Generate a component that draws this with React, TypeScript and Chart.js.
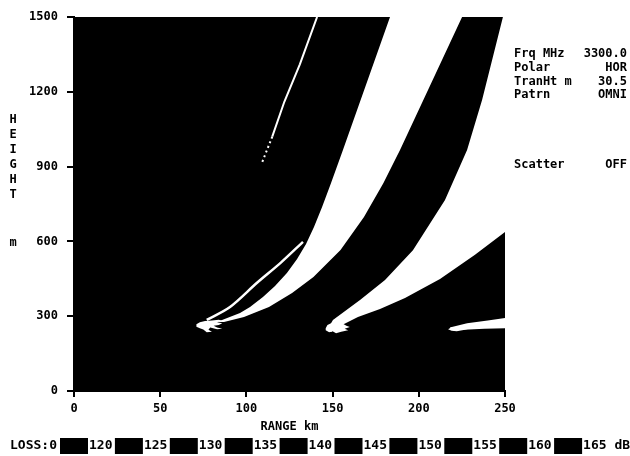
import { useEffect, useRef } from 'react';
import { Chart, registerables } from 'chart.js';

Chart.register(...registerables);

// ---- axis ticks ----
const rangeTicks = [0, 50, 100, 150, 200, 250];
const heightTicks = [0, 300, 600, 900, 1200, 1500];

// ---- coverage area (black = loss inside the legend range) ----
const coverageRange = [0, 250, 250, 0];
const coverageHeight = [0, 0, 1500, 1500];

// ---- white null bands (upper edge bottom->top, then lower edge top->bottom) ----
const band1Range = [82.9, 96.3, 102.1, 109.6, 116.6, 123.5, 129.4, 134.6, 139.2, 143.9, 149.1, 156.0, 183.3,
  225.1, 189.1, 179.5, 168.2, 154.6, 138.9, 126.5, 113.1, 98.6, 87.0];
const band1Height = [277, 313, 337, 377, 421, 473, 529, 590, 658, 738, 834, 967, 1500,
  1500, 967, 834, 698, 566, 457, 393, 337, 297, 277];

const band2Range = [146.8, 150.2, 165.9, 180.4, 196.6, 215.2, 228.0, 236.7, 248.8, 250,
  250, 232.6, 212.3, 192.0, 177.5, 164.7, 155.5, 149.1];
const band2Height = [245, 285, 365, 445, 565, 766, 967, 1167, 1500, 1500,
  638, 546, 449, 373, 329, 297, 265, 237];

const band3Range = [218, 228, 240, 250, 250, 238, 226, 220];
const band3Height = [255, 272, 283, 293, 252, 250, 246, 243];

// ---- ragged splashes where the bands start ----
const splash1Range = [71, 73, 76, 80, 84, 86, 83, 86, 84, 81, 83, 86, 83, 79, 78, 80, 77, 75, 73, 71];
const splash1Height = [268, 276, 281, 283, 286, 282, 276, 272, 265, 262, 255, 250, 248, 255, 246, 238, 236, 247, 252, 258];

const splash2Range = [146, 147, 150, 154, 156, 158, 160, 157, 159, 155, 152, 150, 148, 146];
const splash2Height = [252, 265, 275, 278, 270, 262, 257, 250, 244, 238, 232, 240, 236, 244];

const splash3Range = [217, 219, 223, 226, 229, 226, 222, 219];
const splash3Height = [248, 256, 258, 252, 250, 245, 240, 242];

// ---- thin white lines ----
const thinLowRange = [77, 90.5, 106, 120, 132.8];
const thinLowHeight = [285, 337, 433, 515, 598];
const thinHighRange = [141, 131, 122, 115, 109];
const thinHighHeight = [1500, 1310, 1160, 1020, 915];

// ---- text ----
const heightLetters = ['H', 'E', 'I', 'G', 'H', 'T'];
const heightUnit = 'm';
const panelLabels = ['Frq MHz', 'Polar', 'TranHt m', 'Patrn'];
const panelValues = ['3300.0', 'HOR', '30.5', 'OMNI'];
const scatterLabel = 'Scatter';
const scatterValue = 'OFF';
const lossPrefix = 'LOSS:0';
const lossLabels = ['120', '125', '130', '135', '140', '145', '150', '155', '160', '165 dB'];

const FAMILY = '"DejaVu Sans Mono", "Liberation Mono", monospace';

const zip = (xs: number[], ys: number[]) => xs.map((x, i) => ({ x, y: ys[i] }));

const polygon = (label: string, xs: number[], ys: number[], color: string, order: number, tension = 0) => ({
  label,
  data: zip(xs, ys),
  showLine: true,
  fill: 'shape',
  backgroundColor: color,
  borderColor: 'rgba(0,0,0,0)',
  borderWidth: 0,
  pointRadius: 0,
  pointHoverRadius: 0,
  tension,
  order,
});

const textPlugin = {
  id: 'coverageText',
  afterDraw(chart: any) {
    const ctx = chart.ctx as CanvasRenderingContext2D;
    ctx.save();
    ctx.fillStyle = '#000';
    ctx.textBaseline = 'middle';
    ctx.font = `bold 12px ${FAMILY}`;
    ctx.textAlign = 'center';
    heightLetters.forEach((ch, i) => ctx.fillText(ch, 13, 120 + 15 * i));
    ctx.fillText(heightUnit, 13, 243);

    panelLabels.forEach((t, i) => {
      ctx.textAlign = 'left';
      ctx.fillText(t, 514, 54 + 13.7 * i);
      ctx.textAlign = 'right';
      ctx.fillText(panelValues[i], 627, 54 + 13.7 * i);
    });
    ctx.textAlign = 'left';
    ctx.fillText(scatterLabel, 514, 165);
    ctx.textAlign = 'right';
    ctx.fillText(scatterValue, 627, 165);

    ctx.font = `bold 13px ${FAMILY}`;
    ctx.textAlign = 'left';
    ctx.fillText(lossPrefix, 10, 446);
    lossLabels.forEach((t, i) => {
      const bx = 60 + 54.9 * i;
      ctx.fillRect(bx, 438, 28, 16);
      ctx.fillText(t, bx + 29, 446);
    });
    ctx.restore();
  },
};

export default function App() {
  const ref = useRef<HTMLCanvasElement | null>(null);
  useEffect(() => {
    if (!ref.current) return;
    const tickFont = { family: FAMILY, size: 12, weight: 'bold' as const };
    const chart = new Chart(ref.current, {
      type: 'scatter',
      data: {
        datasets: [
          { ...polygon('thin-low', thinLowRange, thinLowHeight, '#fff', 1, 0.3), fill: false, borderColor: '#fff', borderWidth: 2.5 },
          {
            ...polygon('thin-high', thinHighRange, thinHighHeight, '#fff', 1, 0),
            fill: false,
            borderColor: '#fff',
            borderWidth: 2,
            segment: { borderDash: (c: any) => (c.p0DataIndex >= 3 ? [2, 3] : undefined) },
          },
          polygon('band1', band1Range, band1Height, '#fff', 2),
          polygon('band2', band2Range, band2Height, '#fff', 2),
          polygon('band3', band3Range, band3Height, '#fff', 2),
          polygon('splash1', splash1Range, splash1Height, '#fff', 2),
          polygon('splash2', splash2Range, splash2Height, '#fff', 2),
          polygon('splash3', splash3Range, splash3Height, '#fff', 2),
          polygon('coverage', coverageRange, coverageHeight, '#000', 3),
        ] as any,
      },
      options: {
        responsive: false,
        devicePixelRatio: 1,
        animation: false,
        layout: { padding: { left: 0, right: 125, top: 17, bottom: 20 } },
        plugins: { legend: { display: false }, tooltip: { enabled: false } },
        scales: {
          x: {
            type: 'linear',
            min: 0,
            max: 250,
            afterFit: (s: any) => { s.height = 45; },
            afterBuildTicks: (s: any) => { s.ticks = rangeTicks.map((v) => ({ value: v })); },
            ticks: { color: '#000', font: tickFont, padding: 5, maxRotation: 0, autoSkip: false, callback: (v: any) => String(v) },
            grid: { drawOnChartArea: false, drawTicks: true, tickLength: 6, color: '#000', lineWidth: 2 },
            border: { display: true, color: '#000', width: 2 },
            title: { display: true, text: 'RANGE km', color: '#000', font: tickFont, padding: { top: 0, bottom: 2 } },
          },
          y: {
            type: 'linear',
            min: 0,
            max: 1500,
            afterFit: (s: any) => { s.width = 74; },
            afterBuildTicks: (s: any) => { s.ticks = heightTicks.map((v) => ({ value: v })); },
            ticks: { color: '#000', font: tickFont, padding: 9, autoSkip: false, callback: (v: any) => String(v) },
            grid: { drawOnChartArea: false, drawTicks: true, tickLength: 7, color: '#000', lineWidth: 2 },
            border: { display: true, color: '#000', width: 2 },
          },
        },
      },
      plugins: [textPlugin],
    });
    return () => chart.destroy();
  }, []);
  return (
    <div style={{ position: 'fixed', left: 0, top: 0, width: 630, height: 456, background: '#fff' }}>
      <canvas ref={ref} width={630} height={456} style={{ display: 'block' }} />
    </div>
  );
}
